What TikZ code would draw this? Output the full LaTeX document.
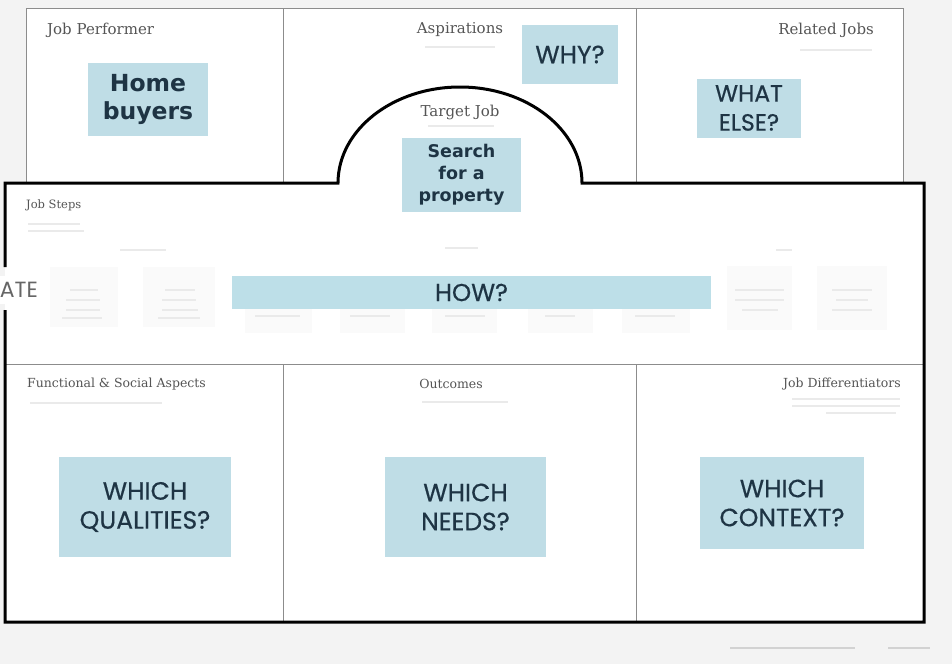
\documentclass[tikz,border=0pt]{standalone}
\usepackage{fontspec}
\setmainfont{DejaVu Serif}
\newfontfamily\capfont[FakeBold=0.5]{Poppins}
\newfontfamily\atefont{Poppins}
\newfontfamily\bfbox{DejaVu Sans}
\definecolor{bgc}{HTML}{F3F3F3}
\definecolor{thinc}{HTML}{8C8C8C}
\definecolor{boxc}{HTML}{BFDDE6}
\definecolor{howc}{HTML}{BDDFE8}
\definecolor{txtc}{HTML}{1E3444}
\definecolor{headc}{HTML}{555555}
\definecolor{faintc}{HTML}{EAEAEA}
\definecolor{stepc}{HTML}{FAFAFA}
\tikzset{
  thinline/.style={draw=thinc, line width=1pt},
  boldline/.style={draw=black, line width=3pt, line join=miter},
  qbox/.style={fill=boxc, text=txtc, align=center, inner sep=0pt},
  capq/.style={qbox, font=\capfont\fontsize{25}{29}\selectfont},
  boldq/.style={qbox, font=\bfbox\bfseries\fontsize{23.5}{28}\selectfont},
  headtop/.style={text=headc, inner sep=0pt, font=\fontsize{15}{17}\selectfont},
  headbot/.style={text=headc, inner sep=0pt, font=\fontsize{12.5}{15}\selectfont},
  faint/.style={draw=faintc, line width=2pt}
}
\begin{document}
\begin{tikzpicture}[x=1pt,y=-1pt]
\useasboundingbox (0,0) rectangle (952,664);
\clip (0,0) rectangle (952,664);
\fill[bgc] (0,0) rectangle (952,664);
% top canvas
\fill[white] (26,8) rectangle (903,183);
\draw[thinline] (26,183) -- (26,8) -- (903,8) -- (903,183);
\draw[thinline] (283,8) -- (283,183);
\draw[thinline] (636,8) -- (636,183);
% bold shape fill
\fill[white] (5,183) -- (338,183) arc[start angle=180,end angle=360,x radius=122,y radius=96] -- (924,183) -- (924,622) -- (5,622) -- cycle;
% inner lines
\draw[thinline] (5,364) -- (924,364);
\draw[thinline] (283,364) -- (283,622);
\draw[thinline] (636,364) -- (636,622);
% faint placeholder elements
\draw[faint] (800,50) -- (872,50);
\draw[faint] (425,47) -- (495,47);
\draw[faint] (428,126) -- (494,126);
\draw[faint] (28,224) -- (80,224);
\draw[faint] (28,231) -- (84,231);
\draw[faint] (30,403) -- (162,403);
\draw[faint] (422,402) -- (508,402);
\draw[faint] (792,399) -- (900,399);
\draw[faint] (792,406) -- (900,406);
\draw[faint] (826,413) -- (896,413);
\draw[faint] (120,250) -- (166,250);
\draw[faint] (445,248) -- (478,248);
\draw[faint] (776,250) -- (792,250);
\fill[stepc] (50,267) rectangle (118,327);
\fill[stepc] (143,267) rectangle (215,327);
\fill[stepc] (245,300) rectangle (312,333);
\fill[stepc] (340,300) rectangle (405,333);
\fill[stepc] (432,300) rectangle (497,333);
\fill[stepc] (528,300) rectangle (593,333);
\fill[stepc] (622,300) rectangle (690,333);
\fill[stepc] (727,266) rectangle (792,330);
\fill[stepc] (817,266) rectangle (887,330);
\draw[faint, line width=1.5pt] (70,290) -- (98,290) (66,300) -- (100,300) (66,310) -- (100,310) (62,318) -- (102,318);
\draw[faint, line width=1.5pt] (165,290) -- (195,290) (162,300) -- (196,300) (162,310) -- (198,310) (158,318) -- (200,318);
\draw[faint, line width=1.5pt] (255,316) -- (300,316) (350,316) -- (390,316) (445,316) -- (485,316) (545,316) -- (575,316) (635,316) -- (675,316);
\draw[faint, line width=1.5pt] (735,290) -- (784,290) (735,300) -- (784,300) (742,310) -- (778,310);
\draw[faint, line width=1.5pt] (832,290) -- (872,290) (836,300) -- (868,300) (832,310) -- (872,310);
% footer
\draw[draw=gray!35, line width=2pt] (730,648) -- (855,648);
\draw[draw=gray!35, line width=2pt] (888,648) -- (930,648);
% ATE text covering left border
\node[anchor=east, fill=white, text=headc!90, inner xsep=2pt, inner ysep=6pt, font=\atefont\fontsize{22}{26}\selectfont] (ate) at (40,290) {ATE};
% bold outline
\draw[boldline] (5,267) -- (5,183) -- (338,183) arc[start angle=180,end angle=360,x radius=122,y radius=96] -- (924,183) -- (924,622) -- (5,622) -- (5,310);
% headings
\node[headtop, anchor=west] (hperf) at (47,30) {Job Performer};
\node[headtop] (hasp) at (460,30) {Aspirations};
\node[headtop, anchor=east] (hrel) at (874,30) {Related Jobs};
\node[headtop] (htarget) at (460,112) {Target Job};
\node[headbot, anchor=west, font=\fontsize{11.5}{14}\selectfont] (hsteps) at (26,205) {Job Steps};
\node[headbot, anchor=west] (hfunc) at (27,384) {Functional \& Social Aspects};
\node[headbot] (hout) at (451,384) {Outcomes};
\node[headbot, anchor=east] (hdiff) at (901,384) {Job Differentiators};
% blue boxes
\node[boldq, minimum width=120, minimum height=73] (buyers) at (148,99.5) {Home\\buyers};
\node[capq, minimum width=96, minimum height=59] (why) at (570,54.5) {WHY?};
\node[capq, minimum width=104, minimum height=59, font=\capfont\fontsize{23.5}{29}\selectfont] (else) at (749,108) {WHAT\\ELSE?};
\node[boldq, minimum width=119, minimum height=74, font=\bfbox\bfseries\fontsize{17.5}{22}\selectfont] (search) at (461.5,175) {Search\\for a\\property};
\node[capq, fill=howc, minimum width=479, minimum height=33, font=\capfont\fontsize{24.5}{29}\selectfont] (how) at (471.5,292.5) {HOW?};
\node[capq, minimum width=172, minimum height=100] (qual) at (145,507) {WHICH\\QUALITIES?};
\node[capq, minimum width=161, minimum height=100] (needs) at (465.5,507) {WHICH\\NEEDS?};
\node[capq, minimum width=164, minimum height=92] (ctx) at (782,503) {WHICH\\CONTEXT?};
\end{tikzpicture}
\end{document}
